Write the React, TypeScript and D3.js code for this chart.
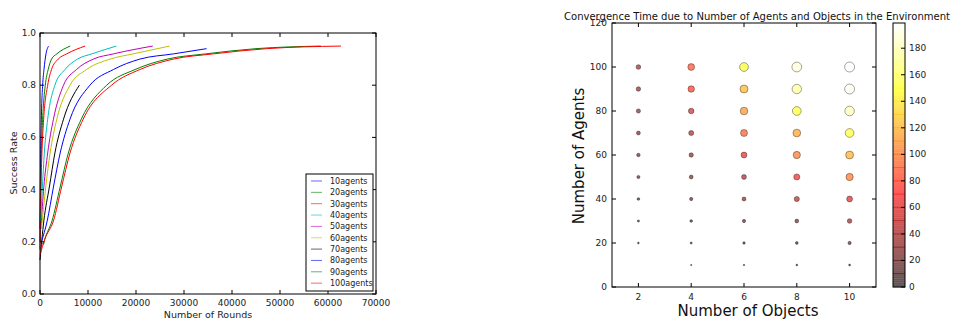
import React from 'react';
import * as d3 from 'd3';

// left panel: success rate vs rounds, one curve per agent count
const agentLabels = ['10agents', '20agents', '30agents', '40agents', '50agents', '60agents', '70agents', '80agents', '90agents', '100agents'];
const lineColors = ['#0000ff', '#008000', '#ff0000', '#00bfbf', '#bf00bf', '#bfbf00', '#000000', '#0000ff', '#008000', '#ff0000'];

const curve10 = [[0, 0.25], [70, 0.41], [280, 0.67], [550, 0.8], [830, 0.86], [1250, 0.92], [1800, 0.95]];
const curve20 = [[0, 0.2], [280, 0.54], [550, 0.67], [1100, 0.8], [1700, 0.86], [2400, 0.9], [3500, 0.92], [6300, 0.95]];
const curve30 = [[0, 0.17], [200, 0.41], [400, 0.54], [760, 0.67], [1600, 0.8], [2400, 0.86], [3800, 0.9], [5550, 0.92], [9400, 0.95]];
const curve40 = [[100, 0.28], [500, 0.41], [900, 0.54], [1600, 0.67], [3100, 0.8], [5200, 0.86], [7800, 0.9], [10800, 0.92], [15900, 0.95]];
const curve50 = [[200, 0.25], [800, 0.41], [1600, 0.54], [2800, 0.67], [4900, 0.8], [7600, 0.86], [11100, 0.9], [15300, 0.92], [23500, 0.95]];
const curve60 = [[300, 0.25], [1200, 0.41], [2100, 0.54], [3500, 0.67], [6250, 0.8], [9700, 0.86], [14600, 0.9], [19400, 0.92], [27000, 0.95]];
const curve70 = [[0, 0.13], [800, 0.28], [1950, 0.41], [3100, 0.54], [4900, 0.67], [8200, 0.8]];
const curve80 = [[300, 0.2], [1500, 0.28], [2800, 0.41], [4200, 0.54], [6250, 0.67], [10400, 0.8], [15300, 0.86], [20800, 0.9], [27800, 0.92], [34700, 0.94]];
const curve90 = [[300, 0.2], [700, 0.19], [1000, 0.21], [2500, 0.28], [4200, 0.41], [5900, 0.54], [8600, 0.67], [13900, 0.8], [19800, 0.86], [26500, 0.9], [34500, 0.92], [45000, 0.94], [58500, 0.95]];
const curve100 = [[0, 0.15], [1000, 0.21], [2800, 0.28], [4500, 0.41], [6250, 0.54], [9000, 0.67], [14900, 0.8], [20800, 0.86], [27800, 0.9], [36100, 0.92], [47200, 0.94], [62700, 0.95]];
const curves = [curve10, curve20, curve30, curve40, curve50, curve60, curve70, curve80, curve90, curve100];

const roundTicks = [0, 10000, 20000, 30000, 40000, 50000, 60000, 70000];
const rateTicks = [0, 0.2, 0.4, 0.6, 0.8, 1.0];

// right panel: convergence time per (objects, agents)
const objectCounts = [2, 4, 6, 8, 10];
const agentCounts = [10, 20, 30, 40, 50, 60, 70, 80, 90, 100];
const time2 = [null, 3, 6, 10, 15, 20, 25, 30, 34, 38];
const time4 = [1, 5, 10, 16, 24, 32, 44, 56, 78, 86];
const time6 = [2, 8, 16, 26, 42, 63, 90, 110, 122, 150];
const time8 = [3, 11, 23, 46, 68, 100, 115, 150, 175, 190];
const time10 = [4, 16, 36, 62, 100, 120, 150, 180, 196, 199];
const times = [time2, time4, time6, time8, time10];

const objectTicks = [2, 4, 6, 8, 10];
const agentTicks = [0, 20, 40, 60, 80, 100, 120];
const colorTicks = [0, 20, 40, 60, 80, 100, 120, 140, 160, 180];

const font = '"DejaVu Sans", sans-serif';

// matplotlib "hot"
function hot(t: number) {
  const c = (v: number) => Math.max(0, Math.min(1, v));
  const r = c(0.0416 + (1 - 0.0416) * t / 0.365079);
  const g = c((t - 0.365079) / (0.746032 - 0.365079));
  const b = c((t - 0.746032) / (1 - 0.746032));
  return d3.rgb(r * 255, g * 255, b * 255).toString();
}

export default function App() {
  // left
  const x = d3.scaleLinear().domain([0, 70000]).range([40, 376]);
  const y = d3.scaleLinear().domain([0, 1]).range([294, 33]);
  const line = d3.line<number[]>().x(d => x(d[0])).y(d => y(d[1])).curve(d3.curveMonotoneX);

  // right
  const xs = d3.scaleLinear().domain([1, 11]).range([612, 876]);
  const ys = d3.scaleLinear().domain([0, 120]).range([287, 23]);
  const vmax = d3.max(times.flat().filter(v => v != null) as number[]) as number;
  const norm = d3.scaleLinear().domain([0, vmax]).clamp(true);
  const rad = d3.scaleSqrt().domain([0, vmax]).range([0.3, 5]);
  const cy = d3.scaleLinear().domain([0, vmax]).range([287, 23]);

  const points: { o: number; a: number; v: number }[] = [];
  objectCounts.forEach((o, i) => {
    agentCounts.forEach((a, j) => {
      const v = times[i][j];
      if (v != null) points.push({ o, a, v });
    });
  });

  const bandSteps = d3.range(0, vmax, 1);
  const bandLines = d3.range(10, vmax, 10);

  return (
    <svg width={956} height={320} style={{ position: 'absolute', left: 0, top: 0, background: '#fff' }} fontFamily={font}>
      {/* ---------- left chart ---------- */}
      <g>
        {curves.map((c, i) => (
          <path key={i} d={line(c) || ''} fill="none" stroke={lineColors[i]} strokeWidth={1} />
        ))}
        <rect x={40} y={33} width={336} height={261} fill="none" stroke="#000" strokeWidth={1} />
        {roundTicks.map(t => (
          <g key={t}>
            <line x1={x(t)} x2={x(t)} y1={294} y2={290} stroke="#000" />
            <line x1={x(t)} x2={x(t)} y1={33} y2={37} stroke="#000" />
            <text x={x(t)} y={306} fontSize={9} textAnchor="middle" fill="#222">{t}</text>
          </g>
        ))}
        {rateTicks.map(t => (
          <g key={t}>
            <line x1={40} x2={44} y1={y(t)} y2={y(t)} stroke="#000" />
            <line x1={376} x2={372} y1={y(t)} y2={y(t)} stroke="#000" />
            <text x={36} y={y(t) + 3} fontSize={9} textAnchor="end" fill="#222">{t.toFixed(1)}</text>
          </g>
        ))}
        <text x={208} y={318} fontSize={9.5} textAnchor="middle" fill="#222">Number of Rounds</text>
        <text transform="translate(17,163) rotate(-90)" fontSize={9.5} textAnchor="middle" fill="#222">Success Rate</text>

        <rect x={306} y={174} width={67} height={117} fill="#fff" stroke="#000" strokeWidth={1} />
        {agentLabels.map((lab, i) => (
          <g key={lab}>
            <line x1={311} x2={322} y1={181 + i * 11.35} y2={181 + i * 11.35} stroke={lineColors[i]} strokeOpacity={0.6} strokeWidth={1} />
            <text x={330} y={181 + i * 11.35 + 3} fontSize={8} fill="#222">{lab}</text>
          </g>
        ))}
      </g>

      {/* ---------- right chart ---------- */}
      <g>
        <text x={757} y={20} fontSize={11} textAnchor="middle" textLength={386} lengthAdjust="spacingAndGlyphs" fill="#111">
          Convergence Time due to Number of Agents and Objects in the Environment
        </text>
        {points.map((p, i) => (
          <circle key={i} cx={xs(p.o)} cy={ys(p.a)} r={rad(p.v)} fill={hot(norm(p.v))} fillOpacity={0.6}
            stroke="#000" strokeOpacity={0.35} strokeWidth={1} />
        ))}
        <rect x={612} y={23} width={264} height={264} fill="none" stroke="#000" strokeWidth={1} />
        {objectTicks.map(t => (
          <g key={t}>
            <line x1={xs(t)} x2={xs(t)} y1={287} y2={283} stroke="#000" />
            <line x1={xs(t)} x2={xs(t)} y1={23} y2={27} stroke="#000" />
            <text x={xs(t)} y={300} fontSize={9} textAnchor="middle" fill="#222">{t}</text>
          </g>
        ))}
        {agentTicks.map(t => (
          <g key={t}>
            <line x1={612} x2={616} y1={ys(t)} y2={ys(t)} stroke="#000" />
            <line x1={876} x2={872} y1={ys(t)} y2={ys(t)} stroke="#000" />
            <text x={607} y={ys(t) + 3} fontSize={9} textAnchor="end" fill="#222">{t}</text>
          </g>
        ))}
        <text x={748} y={316} fontSize={15} textAnchor="middle" fill="#111">Number of Objects</text>
        <text transform="translate(584,156) rotate(-90)" fontSize={15} textAnchor="middle" fill="#111">Number of Agents</text>

        {/* colorbar */}
        {bandSteps.map(v => (
          <rect key={v} x={893} y={cy(Math.min(v + 1, vmax))} width={12} height={cy(v) - cy(Math.min(v + 1, vmax)) + 0.3}
            fill={hot(norm(v + 0.5))} fillOpacity={0.6} />
        ))}
        {bandLines.map(v => (
          <line key={v} x1={893} x2={905} y1={cy(v)} y2={cy(v)} stroke={hot(norm(v))} strokeOpacity={0.5} strokeWidth={1} />
        ))}
        <rect x={893} y={23} width={12} height={264} fill="none" stroke="#000" strokeWidth={1} />
        {colorTicks.map(t => (
          <g key={t}>
            <line x1={905} x2={901} y1={cy(t)} y2={cy(t)} stroke="#000" />
            <text x={909} y={cy(t) + 3} fontSize={9} fill="#222">{t}</text>
          </g>
        ))}
      </g>
    </svg>
  );
}
